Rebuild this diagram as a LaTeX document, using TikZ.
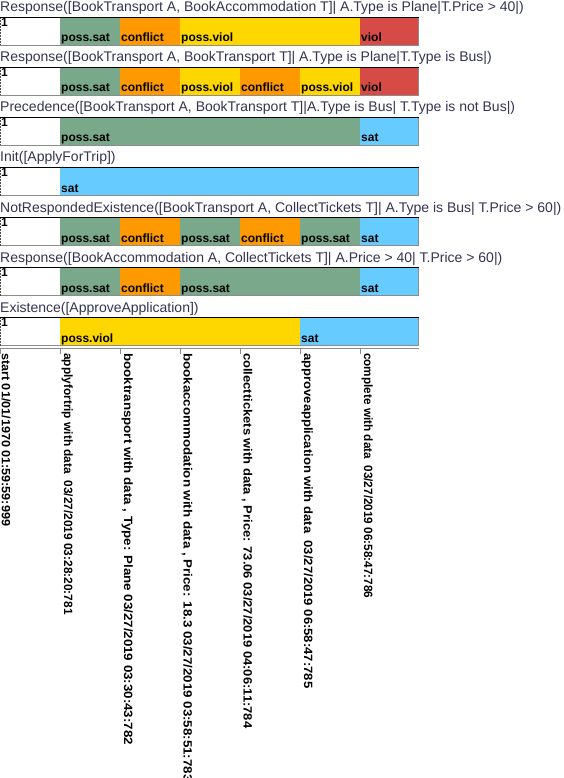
\documentclass[tikz,border=0pt]{standalone}
\usepackage{fontspec}
\usepackage{graphicx}
\setmainfont{Liberation Sans}
\definecolor{ttl}{RGB}{52,52,82}
\definecolor{cps}{RGB}{122,168,138}
\definecolor{ccf}{RGB}{255,153,0}
\definecolor{cpv}{RGB}{255,215,0}
\definecolor{cvi}{RGB}{214,75,69}
\definecolor{cst}{RGB}{102,204,255}
\definecolor{edgegray}{RGB}{140,140,140}
\newcommand{\myRow}[2]{%
  \node[rowtitle] (t#1) at (0,{12+50*#1}) {#2};
}
\newcommand{\myFill}[4]{%
  \fill[#4] (#2,{18+50*#1}) rectangle (#3,{45+50*#1});
}
\newcommand{\myLbl}[3]{%
  \node[celllbl] (l#1x#2) at ({#2+1},{42+50*#1}) {#3};
}
\newcommand{\myFrame}[1]{%
  \node[onelbl] (o#1) at (1,{18.5+50*#1}) {1};
  \draw[edgegray, line width=1pt] (418.5,{17+50*#1}) -- (418.5,{45.5+50*#1}) -- (0,{45.5+50*#1});
  \draw[black!70, line width=1pt, dash pattern=on 2pt off 1pt] (0.5,{17+50*#1}) -- (0.5,{45.5+50*#1});
  \draw[black, line width=1.6pt] (0,{17.5+50*#1}) -- (419,{17.5+50*#1});
}
\newcommand{\myEv}[4]{%
  \node[evlbl] (e#1) at ({#2+1.5},353) {\scalebox{#3}[1]{#4}};
}
\begin{document}
\begin{tikzpicture}[x=1pt,y=-1pt,
  rowtitle/.style={anchor=base west, inner sep=0pt, font=\fontsize{14}{16}\selectfont, text=ttl},
  celllbl/.style={anchor=base west, inner sep=0pt, font=\bfseries\fontsize{12}{14}\selectfont},
  onelbl/.style={anchor=north west, inner sep=0pt, font=\bfseries\fontsize{12}{14}\selectfont},
  evlbl/.style={anchor=south west, rotate=-90, inner sep=0pt, font=\bfseries\fontsize{12}{14}\selectfont},
]
\useasboundingbox (0,0) rectangle (563,778);

% Row 0
\myRow{0}{Response([BookTransport A, BookAccommodation T]| A.Type is Plane|T.Price > 40|)}
\myFill{0}{60}{120}{cps}\myFill{0}{120}{180}{ccf}\myFill{0}{180}{360}{cpv}\myFill{0}{360}{419}{cvi}
\myLbl{0}{60}{poss.sat}\myLbl{0}{120}{conflict}\myLbl{0}{180}{poss.viol}\myLbl{0}{360}{viol}
\myFrame{0}

% Row 1
\myRow{1}{Response([BookTransport A, BookTransport T]| A.Type is Plane|T.Type is Bus|)}
\myFill{1}{60}{120}{cps}\myFill{1}{120}{180}{ccf}\myFill{1}{180}{240}{cpv}\myFill{1}{240}{300}{ccf}\myFill{1}{300}{360}{cpv}\myFill{1}{360}{419}{cvi}
\myLbl{1}{60}{poss.sat}\myLbl{1}{120}{conflict}\myLbl{1}{180}{poss.viol}\myLbl{1}{240}{conflict}\myLbl{1}{300}{poss.viol}\myLbl{1}{360}{viol}
\myFrame{1}

% Row 2
\myRow{2}{Precedence([BookTransport A, BookTransport T]|A.Type is Bus| T.Type is not Bus|)}
\myFill{2}{60}{360}{cps}\myFill{2}{360}{419}{cst}
\myLbl{2}{60}{poss.sat}\myLbl{2}{360}{sat}
\myFrame{2}

% Row 3
\myRow{3}{Init([ApplyForTrip])}
\myFill{3}{60}{419}{cst}
\myLbl{3}{60}{sat}
\myFrame{3}

% Row 4
\myRow{4}{NotRespondedExistence([BookTransport A, CollectTickets T]| A.Type is Bus| T.Price > 60|)}
\myFill{4}{60}{120}{cps}\myFill{4}{120}{180}{ccf}\myFill{4}{180}{240}{cps}\myFill{4}{240}{300}{ccf}\myFill{4}{300}{360}{cps}\myFill{4}{360}{419}{cst}
\myLbl{4}{60}{poss.sat}\myLbl{4}{120}{conflict}\myLbl{4}{180}{poss.sat}\myLbl{4}{240}{conflict}\myLbl{4}{300}{poss.sat}\myLbl{4}{360}{sat}
\myFrame{4}

% Row 5
\myRow{5}{Response([BookAccommodation A, CollectTickets T]| A.Price > 40| T.Price > 60|)}
\myFill{5}{60}{120}{cps}\myFill{5}{120}{180}{ccf}\myFill{5}{180}{360}{cps}\myFill{5}{360}{419}{cst}
\myLbl{5}{60}{poss.sat}\myLbl{5}{120}{conflict}\myLbl{5}{180}{poss.sat}\myLbl{5}{360}{sat}
\myFrame{5}

% Row 6
\myRow{6}{Existence([ApproveApplication])}
\myFill{6}{60}{300}{cpv}\myFill{6}{300}{419}{cst}
\myLbl{6}{60}{poss.viol}\myLbl{6}{300}{sat}
\myFrame{6}

% axis
\coordinate (axL) at (0,348.5);
\coordinate (axR) at (419,348.5);
\draw[edgegray, line width=1pt] (axL) -- (axR);
\foreach \i in {0,60,120,180,240,300,360}{
  \draw[edgegray, line width=1pt] (\i+0.5,348.5) -- (\i+0.5,354);
}

\myEv{0}{0}{1.05}{start 01/01/1970 01:59:59:999}
\myEv{1}{60}{0.99}{applyfortrip with data~ 03/27/2019 03:28:20:781}
\myEv{2}{120}{1.11}{booktransport with data , Type: Plane 03/27/2019 03:30:43:782}
\myEv{3}{180}{1.11}{bookaccommodation with data , Price: 18.3 03/27/2019 03:58:51:783}
\myEv{4}{240}{1.08}{collecttickets with data , Price: 73.06 03/27/2019 04:06:11:784}
\myEv{5}{300}{1.09}{approveapplication with data~ 03/27/2019 06:58:47:785}
\myEv{6}{360}{0.98}{complete with data~ 03/27/2019 06:58:47:786}
\end{tikzpicture}
\end{document}
